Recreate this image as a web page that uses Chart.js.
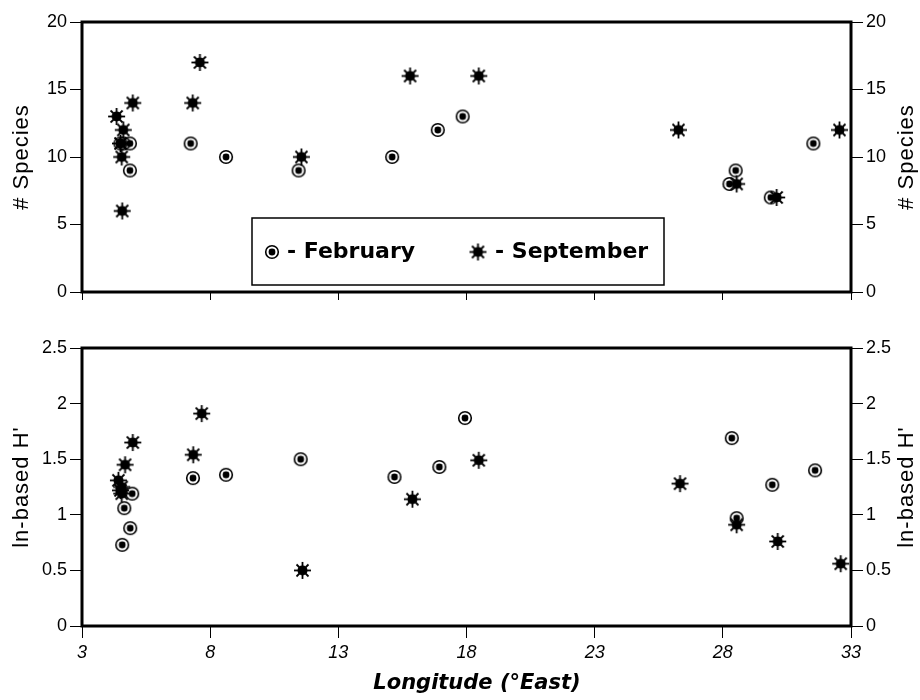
<!DOCTYPE html>
<html lang="en">
<head>
<meta charset="UTF-8">
<title>Species and H' by longitude</title>
<script src="https://cdn.jsdelivr.net/npm/chart.js"></script>
<style>
    body { margin: 0; background: #fff; }
    .wrap { position: relative; width: 920px; height: 700px; }
    #topChart { position: absolute; left: 0; top: 0; }
    #bottomChart { position: absolute; left: 0; top: 320px; }
</style>
</head>
<body>
<div class="wrap">
    <canvas id="topChart" width="920" height="320"></canvas>
    <canvas id="bottomChart" width="920" height="380"></canvas>
</div>
<script>
// ticks
const xTicks = [3, 8, 13, 18, 23, 28, 33];
const speciesTicks = [0, 5, 10, 15, 20];
const hTicks = [0, 0.5, 1, 1.5, 2, 2.5];

// # species, February
const febLonSpecies = [4.5, 4.62, 4.87, 4.87, 7.24, 8.62, 11.45, 15.1, 16.88, 17.85, 28.26, 28.5, 29.87, 31.53];
const febSpecies = [11, 11, 11, 9, 11, 10, 9, 10, 12, 13, 8, 9, 7, 11];
// # species, September
const sepLonSpecies = [4.35, 4.61, 4.5, 4.55, 4.57, 4.98, 7.32, 7.6, 11.56, 15.8, 18.48, 26.27, 28.54, 30.1, 32.55];
const sepSpecies = [13, 12, 11, 10, 6, 14, 14, 17, 10, 16, 16, 12, 8, 7, 12];

// ln-based H', February
const febLonH = [4.57, 4.65, 4.88, 4.96, 7.33, 8.62, 11.53, 15.19, 16.94, 17.94, 28.35, 28.54, 29.93, 31.6];
const febH = [0.73, 1.06, 0.88, 1.19, 1.33, 1.36, 1.5, 1.34, 1.43, 1.87, 1.69, 0.97, 1.27, 1.4];
// ln-based H', September
const sepLonH = [4.42, 4.55, 4.55, 4.5, 4.68, 4.98, 7.34, 7.67, 11.6, 15.89, 18.48, 26.33, 28.54, 30.14, 32.6];
const sepH = [1.31, 1.25, 1.19, 1.22, 1.45, 1.65, 1.54, 1.91, 0.5, 1.14, 1.49, 1.28, 0.91, 0.76, 0.56];

const tickFont = { family: '"Liberation Sans", Arial, sans-serif', size: 18 };

function toPoints(xs, ys) {
    return xs.map((x, i) => ({ x: x, y: ys[i] }));
}

// marker images
function febMarker() {
    const c = document.createElement('canvas');
    c.width = 16; c.height = 16;
    const g = c.getContext('2d');
    g.strokeStyle = '#000';
    g.lineWidth = 1.6;
    g.beginPath();
    g.arc(8, 8, 6.3, 0, Math.PI * 2);
    g.stroke();
    g.fillStyle = '#000';
    g.beginPath();
    g.arc(8, 8, 3.4, 0, Math.PI * 2);
    g.fill();
    g.fillRect(5.5, 5.5, 5, 5);
    return c;
}

function sepMarker() {
    const c = document.createElement('canvas');
    c.width = 19; c.height = 19;
    const g = c.getContext('2d');
    g.fillStyle = '#000';
    g.strokeStyle = '#000';
    g.beginPath();
    g.arc(9.5, 9.5, 5, 0, Math.PI * 2);
    g.fill();
    g.lineWidth = 1.8;
    for (let k = 0; k < 8; k++) {
        const a = k * Math.PI / 4;
        g.beginPath();
        g.moveTo(9.5, 9.5);
        g.lineTo(9.5 + Math.cos(a) * 8.5, 9.5 + Math.sin(a) * 8.5);
        g.stroke();
    }
    return c;
}

const febImg = febMarker();
const sepImg = sepMarker();

// thick frame round the plot area
const framePlugin = {
    id: 'frame',
    afterDraw(chart) {
        const a = chart.chartArea;
        const ctx = chart.ctx;
        ctx.save();
        ctx.strokeStyle = '#000';
        ctx.lineWidth = 3;
        ctx.strokeRect(a.left, a.top, a.right - a.left, a.bottom - a.top);
        ctx.restore();
    }
};

// y titles on both sides, reading bottom to top
const titlePlugin = {
    id: 'sideTitles',
    afterDraw(chart, args, opts) {
        const a = chart.chartArea;
        const ctx = chart.ctx;
        const cy = (a.top + a.bottom) / 2;
        ctx.save();
        ctx.fillStyle = '#000';
        ctx.font = '22px "Liberation Sans", Arial, sans-serif';
        ctx.letterSpacing = '1px';
        ctx.textAlign = 'center';
        ctx.textBaseline = 'middle';
        [22, 907].forEach(x => {
            ctx.save();
            ctx.translate(x, cy);
            ctx.rotate(-Math.PI / 2);
            ctx.fillText(opts.text, 0, 0);
            ctx.restore();
        });
        if (opts.xTitle) {
            ctx.letterSpacing = '0px';
            ctx.font = 'italic bold 21px "DejaVu Sans", sans-serif';
            ctx.textBaseline = 'middle';
            ctx.fillText(opts.xTitle, 477, 364);
        }
        ctx.restore();
    }
};

// boxed legend inside the top plot
const legendPlugin = {
    id: 'boxLegend',
    afterDraw(chart) {
        const ctx = chart.ctx;
        ctx.save();
        ctx.strokeStyle = '#000';
        ctx.lineWidth = 1.5;
        ctx.fillStyle = '#fff';
        ctx.fillRect(252, 218, 412, 67);
        ctx.strokeRect(252, 218, 412, 67);
        ctx.fillStyle = '#000';
        ctx.font = 'bold 22px "DejaVu Sans", sans-serif';
        ctx.textBaseline = 'middle';
        ctx.textAlign = 'left';
        const feb = chart.data.datasets[1];
        const sep = chart.data.datasets[0];
        ctx.drawImage(febImg, 272 - 8, 252 - 8);
        ctx.fillText('- ' + feb.label, 287, 252);
        ctx.drawImage(sepImg, 478 - 9.5, 252 - 9.5);
        ctx.fillText('- ' + sep.label, 495, 252);
        ctx.restore();
    }
};

function yAxis(pos, min, max, ticks, width) {
    return {
        position: pos,
        min: min,
        max: max,
        afterBuildTicks: s => { s.ticks = ticks.map(v => ({ value: v })); },
        afterFit: s => { s.width = width; },
        border: { display: false },
        grid: { drawOnChartArea: false, drawTicks: true, tickLength: 12, color: '#000', lineWidth: 1 },
        ticks: { color: '#000', font: tickFont, padding: 3, callback: v => String(v) }
    };
}

function makeChart(id, febData, sepData, yMin, yMax, yTicks, opts) {
    return new Chart(document.getElementById(id), {
        type: 'scatter',
        data: {
            datasets: [
                { label: 'September', data: sepData, pointStyle: sepImg, order: 0 },
                { label: 'February', data: febData, pointStyle: febImg, order: 1 }
            ]
        },
        options: {
            responsive: false,
            animation: false,
            events: [],
            layout: { padding: { top: opts.padTop, left: 0, right: 0, bottom: 0 } },
            plugins: {
                legend: { display: false },
                tooltip: { enabled: false },
                sideTitles: { text: opts.yTitle, xTitle: opts.xTitle }
            },
            scales: {
                x: {
                    type: 'linear',
                    min: 3,
                    max: 33,
                    afterBuildTicks: s => { s.ticks = xTicks.map(v => ({ value: v })); },
                    afterFit: s => { s.height = opts.xHeight; },
                    border: { display: false },
                    grid: { drawOnChartArea: false, drawTicks: true, tickLength: opts.xTick, color: '#000', lineWidth: 1 },
                    ticks: {
                        display: opts.xLabels,
                        color: '#000',
                        font: { family: '"Liberation Sans", Arial, sans-serif', size: 18, style: 'italic' },
                        padding: 4,
                        maxRotation: 0,
                        callback: v => String(v)
                    }
                },
                y: yAxis('left', yMin, yMax, yTicks, 82),
                y2: yAxis('right', yMin, yMax, yTicks, 69)
            }
        },
        plugins: opts.legend ? [framePlugin, titlePlugin, legendPlugin] : [framePlugin, titlePlugin]
    });
}

makeChart('topChart', toPoints(febLonSpecies, febSpecies), toPoints(sepLonSpecies, sepSpecies),
    0, 20, speciesTicks,
    { padTop: 22, xHeight: 28, xTick: 8, xLabels: false, yTitle: '# Species', legend: true });

makeChart('bottomChart', toPoints(febLonH, febH), toPoints(sepLonH, sepH),
    0, 2.5, hTicks,
    { padTop: 28, xHeight: 74, xTick: 12, xLabels: true, yTitle: "ln-based H'", xTitle: 'Longitude (°East)', legend: false });
</script>
</body>
</html>
